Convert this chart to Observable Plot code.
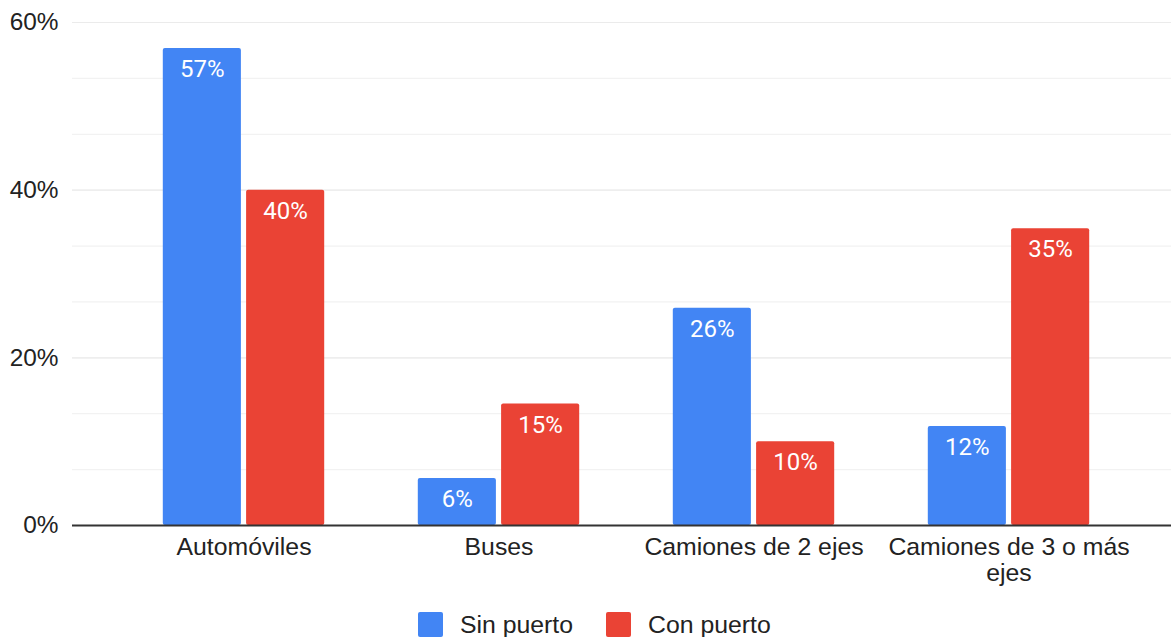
<!DOCTYPE html>
<html>
<head>
<meta charset="utf-8">
<script src="https://cdn.jsdelivr.net/npm/d3@7"></script>
<script src="https://cdn.jsdelivr.net/npm/@observablehq/plot@0.6"></script>
<style>
  body { margin: 0; background: #fff; width: 1171px; height: 637px; overflow: hidden; position: relative; }
  #legend { position: absolute; left: 418px; top: 612px; display: flex; align-items: center;
            font-family: "Liberation Sans", Arial, sans-serif; font-size: 24.8px; color: #222; line-height: 25px; }
  .item { display: flex; align-items: center; margin-right: 33px; }
  .sw { width: 25px; height: 25px; border-radius: 2px; margin-right: 17px; }
</style>
</head>
<body>
<div id="chart"></div>
<div id="legend"></div>
<script>
const categories = ["Automóviles", "Buses", "Camiones de 2 ejes", "Camiones de 3 o más ejes"];
const sinPuerto = [56.9, 5.6, 25.9, 11.8];
const conPuerto = [40.0, 14.5, 10.0, 35.4];
const seriesNames = ["Sin puerto", "Con puerto"];
const seriesColors = ["#4285F4", "#EA4335"];
const yTicks = [0, 20, 40, 60];
const gridStep = 20 / 3;

const sinData = categories.map((c, i) => ({cat: c, series: seriesNames[0], value: sinPuerto[i]}));
const conData = categories.map((c, i) => ({cat: c, series: seriesNames[1], value: conPuerto[i]}));
const gridValues = d3.range(0, 9).map(i => (i + 1) * gridStep).filter(v => v <= 60.001);
const majorGrid = yTicks.filter(v => v > 0);

const wrap = d => d.length > 20 ? d.replace(/ (\S+)$/, "\n$1") : d;
const fmt = d => Math.round(d.value) + "%";

const labelStyle = {fill: "white", fontSize: 24, fontFamily: "Roboto, sans-serif", fontWeight: 400, dy: 21, lineAnchor: "middle"};

const chart = Plot.plot({
  width: 1171,
  height: 600,
  marginTop: 22,
  marginBottom: 75,
  marginLeft: 72,
  marginRight: 0,
  style: {fontFamily: "'Liberation Sans', Arial, sans-serif", fontSize: "24px", color: "#222", background: "white"},
  x: {type: "band", domain: categories, range: [115.9, 1136.6], paddingInner: 0, paddingOuter: 0},
  y: {domain: [0, 60]},
  marks: [
    Plot.ruleY(gridValues, {stroke: "#f2f2f2", strokeWidth: 1.2}),
    Plot.ruleY(majorGrid, {stroke: "#ebebeb", strokeWidth: 1.2}),
    Plot.barY(sinData, {x: "cat", y: "value", fill: seriesColors[0], insetLeft: 46.8, insetRight: 130.1, rx: 2}),
    Plot.barY(conData, {x: "cat", y: "value", fill: seriesColors[1], insetLeft: 130.1, insetRight: 46.8, rx: 2}),
    Plot.text(sinData, {x: "cat", y: "value", text: fmt, dx: -41.6, ...labelStyle}),
    Plot.text(conData, {x: "cat", y: "value", text: fmt, dx: 41.6, ...labelStyle}),
    Plot.ruleY([0], {stroke: "#333", strokeWidth: 2}),
    Plot.axisY({ticks: yTicks, tickFormat: d => d + "%", tickSize: 0, tickPadding: 14, fontSize: 24.4, fill: "#222", label: null}),
    Plot.axisX({tickSize: 0, tickPadding: 11, tickFormat: wrap, fontSize: 24.8, fill: "#222", label: null, lineHeight: 1.05})
  ]
});
document.getElementById("chart").appendChild(chart);

const legend = document.getElementById("legend");
seriesNames.forEach((name, i) => {
  const item = document.createElement("div");
  item.className = "item";
  const sw = document.createElement("div");
  sw.className = "sw";
  sw.style.background = seriesColors[i];
  const label = document.createElement("span");
  label.textContent = name;
  item.appendChild(sw);
  item.appendChild(label);
  legend.appendChild(item);
});
</script>
</body>
</html>
